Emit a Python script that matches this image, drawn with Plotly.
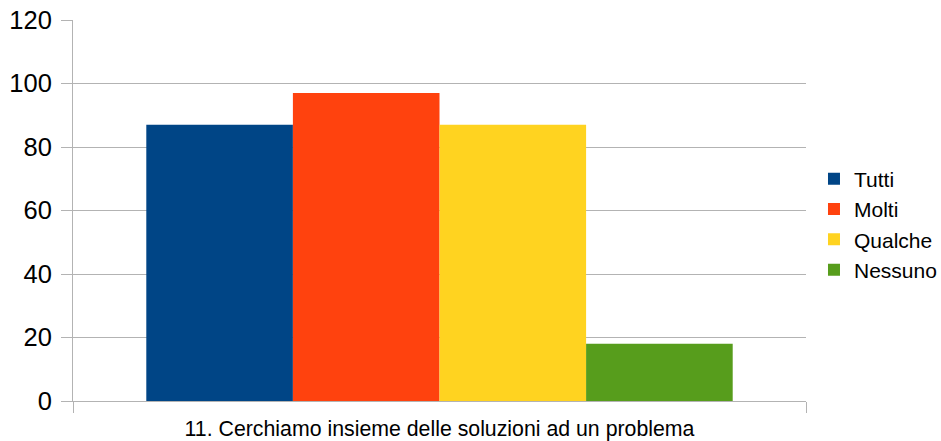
import plotly.graph_objects as go

categories = ["11. Cerchiamo insieme delle soluzioni ad un problema"]
series_names = ["Tutti", "Molti", "Qualche", "Nessuno"]
series_values = [[87], [97], [87], [18]]
series_colors = ["#004586", "#ff420e", "#ffd320", "#579d1c"]
y_ticks = [0, 20, 40, 60, 80, 100, 120]

fig = go.Figure()
for name, vals, col in zip(series_names, series_values, series_colors):
    fig.add_trace(go.Bar(x=categories, y=vals, name=name, marker=dict(color=col, line=dict(width=0))))

grid = "#b3b3b3"
fig.update_layout(
    width=941, height=441,
    margin=dict(l=73, r=135, t=20, b=40, autoexpand=False),
    paper_bgcolor="white", plot_bgcolor="white",
    barmode="group", bargap=0.2, bargroupgap=0,
    font=dict(family="Liberation Sans, Arial, sans-serif", color="#000000"),
    showlegend=True,
    legend=dict(x=1.0109, xanchor="left", y=0.463, yanchor="middle",
                font=dict(size=21), tracegroupgap=0, itemwidth=30),
    xaxis=dict(showline=True, linecolor=grid, linewidth=1, showgrid=True, gridcolor=grid,
               tickson="boundaries", ticks="outside", ticklen=11, tickcolor=grid,
               tickfont=dict(size=21.3), zeroline=False, automargin=False,
               ticklabelstandoff=8),
    yaxis=dict(range=[0, 120], tickvals=y_ticks, showline=True, linecolor=grid, linewidth=1,
               showgrid=True, gridcolor=grid, ticks="outside", ticklen=11, tickcolor=grid,
               tickfont=dict(size=25.5), zeroline=False, ticklabelstandoff=4, automargin=False),
)
fig.write_html("out.html", config={"displayModeBar": False},
               post_script="document.body.style.margin='0';")
